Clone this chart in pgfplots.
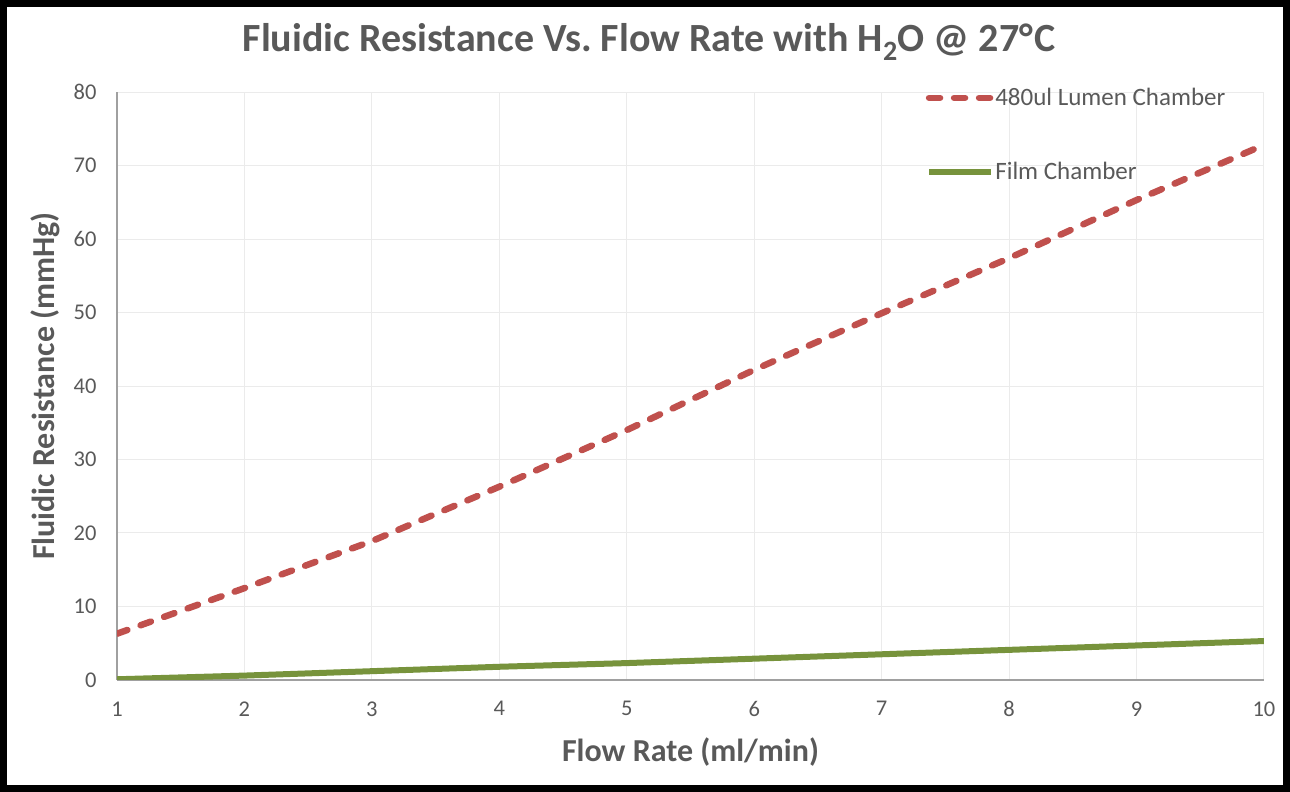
\documentclass[border=0pt]{standalone}
\usepackage{pgfplots}
\pgfplotsset{compat=1.18}
\usepackage{fontspec}
\setmainfont{Carlito}
\definecolor{txt}{HTML}{595959}
\definecolor{redl}{HTML}{C0504D}
\definecolor{grn}{HTML}{77933C}
\definecolor{gridc}{HTML}{EBEBEB}
\definecolor{axc}{HTML}{A0A0A0}
\begin{document}
\begin{tikzpicture}[x=1pt,y=1pt]
\begin{axis}[
  at={(117pt,112pt)}, anchor=south west,
  scale only axis, width=1147pt, height=588pt,
  xmin=1, xmax=10, ymin=0, ymax=80,
  xtick={1,...,10}, ytick={0,10,...,80},
  grid=major, major grid style={gridc, line width=1pt},
  axis lines*=left,
  axis line style={axc, line width=1.5pt, -},
  major tick length=0pt,
  /pgf/number format/assume math mode=true,
  ticklabel style={font=\fontsize{22.5}{26}\selectfont, text=txt},
  xticklabel style={yshift=-18pt},
  yticklabel style={xshift=-17pt},
  xlabel={Flow Rate (ml/min)},
  ylabel={Fluidic Resistance (mmHg)},
  label style={font=\bfseries\fontsize{32}{36}\selectfont, text=txt},
  xlabel style={at={([yshift=-72pt]axis description cs:0.5,0)}, anchor=center},
  ylabel style={at={([xshift=-72pt]axis description cs:0,0.5)}, anchor=center},
  legend style={at={(rel axis cs:0.705,1.01)}, anchor=north west, draw=none, fill=none,
    font=\fontsize{25}{29}\selectfont, text=txt, row sep=51pt, inner sep=0pt,
    nodes={inner xsep=1pt},
    /tikz/every odd column/.append style={column sep=0pt}},
  legend cell align=left,
  legend image code/.code={\draw[#1] (0pt,0pt) -- (62pt,0pt);},
]
\addplot[redl, line width=6.5pt, line cap=round, dash pattern=on 11pt off 14pt]
  coordinates {(1,6.3) (2,12.5) (3,18.9) (4,26.3) (5,34.0) (6,42.2) (7,49.9) (8,57.4) (9,65.3) (10,72.8)};
\addlegendentry{480ul Lumen Chamber}
\addplot[grn, line width=6pt]
  coordinates {(1,0.1) (2,0.6) (3,1.2) (4,1.8) (5,2.3) (6,2.9) (7,3.5) (8,4.1) (9,4.7) (10,5.3)};
\addlegendentry{Film Chamber}
\end{axis}
\node[font=\bfseries\fontsize{40}{46}\selectfont, text=txt] at (649,750) {Fluidic Resistance Vs.\ Flow Rate with H\textsubscript{2}O @ 27°\kern1ptC};
\draw[line width=7pt] (3.5,3.5) rectangle (1286.5,788.5);
\end{tikzpicture}
\end{document}
